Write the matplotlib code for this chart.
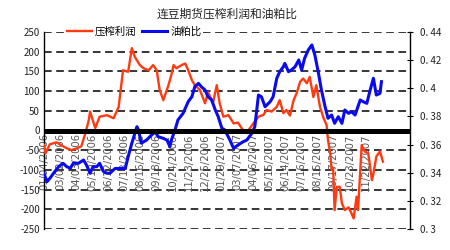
import matplotlib
matplotlib.use("Agg")
import matplotlib.pyplot as plt
from matplotlib.lines import Line2D
from matplotlib.transforms import blended_transform_factory

plt.rcParams['font.family'] = ['Noto Sans CJK SC', 'DejaVu Sans']

# trading-day index and values
profit_day = [0, 2, 8, 17, 24, 31, 38, 45, 51, 56, 61, 63, 70, 76, 86, 95, 102, 108, 115, 120,
              124, 131, 136, 143, 149, 154, 158, 163, 170, 174, 177, 181, 188, 193, 197, 202,
              206, 213, 220, 224, 231, 236, 240, 245, 252, 259, 265, 270, 275, 279, 286, 293,
              300, 304, 311, 318, 322, 327, 331, 336, 341, 345, 350, 354, 359, 363, 368, 372,
              377, 382, 386, 388, 391, 393, 395, 397, 400, 404, 407, 411, 416, 420, 423, 427,
              429, 434, 438, 443, 448, 450, 454, 459, 463]
profit = [-37, -58, -35, -30, -38, -45, -50, -45, -40, -10, 25, 48, 6, 35, 39, 31, 60, 153, 149, 209,
          187, 166, 158, 153, 166, 153, 103, 77, 115, 141, 166, 158, 166, 170, 153, 128,
          115, 103, 69, 97, 71, 115, 69, 35, 39, 18, 20, 6, -6, 0, 18, 35,
          40, 52, 48, 60, 77, 44, 52, 38, 77, 94, 124, 132, 120, 136, 85, 115,
          60, 31, 14, -24, -58, -100, -95, -202, -143, -143, -185, -202, -195, -210, -223, -168,
          -202, -37, -53, -58, -126, -110, -66, -53, -79]

ratio_day = [0, 4, 8, 13, 20, 26, 31, 36, 40, 47, 54, 58, 63, 67, 72, 76, 81, 86, 90, 97,
             104, 111, 115, 120, 127, 129, 133, 140, 147, 152, 156, 163, 168, 172, 174, 179,
             183, 190, 197, 202, 206, 211, 215, 220, 224, 229, 234, 238, 243, 247, 254, 259,
             265, 272, 277, 284, 288, 293, 297, 302, 309, 313, 318, 322, 327, 329, 334, 338,
             343, 348, 352, 356, 361, 366, 370, 375, 379, 384, 388, 393, 397, 402, 407, 411,
             416, 420, 425, 432, 436, 441, 445, 450, 454, 459, 461]
ratio = [0.3396, 0.3336, 0.3360, 0.3396, 0.3443, 0.3467, 0.3443, 0.3432, 0.3467, 0.3467, 0.3490,
         0.3455, 0.3396, 0.3443, 0.3443, 0.3467, 0.3410, 0.3396, 0.3396, 0.3430, 0.3430, 0.3430,
         0.3514, 0.3610, 0.3727, 0.3704, 0.3610, 0.3632, 0.3668, 0.3690, 0.3656, 0.3644, 0.3632,
         0.3585, 0.3632, 0.3704, 0.3775, 0.3822, 0.3905, 0.3940, 0.4011, 0.4035, 0.4011, 0.3988,
         0.3940, 0.3917, 0.3846, 0.3798, 0.3716, 0.3704, 0.3632, 0.3573, 0.3597, 0.3620, 0.3632,
         0.3680, 0.3727, 0.3952, 0.3940, 0.3869, 0.3905, 0.3940, 0.4071, 0.4118, 0.4153, 0.4177,
         0.4118, 0.4130, 0.4153, 0.4201, 0.4130, 0.4213, 0.4272, 0.4308, 0.4237, 0.4106, 0.3988,
         0.3869, 0.3787, 0.3810, 0.3751, 0.3798, 0.3751, 0.3846, 0.3822, 0.3834, 0.3810, 0.3917,
         0.3905, 0.3893, 0.3976, 0.4071, 0.3952, 0.3964, 0.4047]

date_labels = ['01/04/2006', '03/02/2006', '04/03/2006', '05/10/2006', '06/12/2006', '07/13/2006',
               '08/16/2006', '09/18/2006', '10/24/2006', '11/23/2006', '12/25/2006', '01/29/2007',
               '03/07/2007', '04/06/2007', '05/15/2007', '06/14/2007', '07/16/2007', '08/15/2007',
               '09/17/2007', '10/23/2007', '11/22/2007']
date_days = [22 * i for i in range(len(date_labels))]

left_ticks = [-250, -200, -150, -100, -50, 0, 50, 100, 150, 200, 250]
right_ticks = [0.30, 0.32, 0.34, 0.36, 0.38, 0.40, 0.42, 0.44]
right_labels = ['0. 3', '0. 32', '0. 34', '0. 36', '0. 38', '0. 4', '0. 42', '0. 44']

title = '连豆期货压榨利润和油粕比'
name_profit = '压榨利润'
name_ratio = '油粕比'

fig = plt.figure(figsize=(4.5, 2.5), dpi=100)
ax = fig.add_axes([44 / 450, 1 - 229 / 250, 366 / 450, 197 / 250])
ax2 = ax.twinx()

ax.set_xlim(0, 500)
ax.set_ylim(-250, 250)
ax2.set_ylim(0.30, 0.44)

for y in left_ticks:
    if y != 0:
        ax.axhline(y, color='black', lw=1.1, ls=(0, (5, 3)), zorder=1)

lp, = ax.plot(profit_day, profit, color='#FF3A10', lw=1.7, zorder=3)
lr, = ax2.plot(ratio_day, ratio, color='#0A0AF0', lw=2.2, zorder=3)

# thick zero line drawn on top
tr = blended_transform_factory(ax.transAxes, ax.transData)
ax2.add_line(Line2D([0, 1], [0, 0], transform=tr, color='black', lw=3.6, zorder=6))

for s in ['top', 'bottom']:
    ax.spines[s].set_visible(False)
    ax2.spines[s].set_visible(False)
ax.spines['left'].set_linewidth(1.0)
ax2.spines['right'].set_linewidth(1.0)
ax2.spines['left'].set_visible(False)
ax.spines['right'].set_visible(False)

ax.set_yticks(left_ticks)
ax.set_yticklabels([str(v) for v in left_ticks])
ax.tick_params(axis='y', length=0, labelsize=7, pad=3, labelcolor='#222222')
ax2.set_yticks(right_ticks)
ax2.set_yticklabels(right_labels)
ax2.tick_params(axis='y', direction='inout', length=4, labelsize=7, pad=5, labelcolor='#222222')

ax.set_xticks(date_days)
ax.set_xticklabels([])
ax.tick_params(axis='x', length=0)
ax2.tick_params(axis='x', length=0)
for d, lab in zip(date_days, date_labels):
    ax.text(d, -7, lab, rotation=90, ha='center', va='top',
            fontsize=7.2, color='#555555', family='DejaVu Sans', zorder=2)

leg = ax2.legend([lp, lr], [name_profit, name_ratio], ncol=2, loc='upper left',
                 bbox_to_anchor=(65 / 450, 1 - 25 / 250), bbox_transform=fig.transFigure,
                 frameon=True, fancybox=False, edgecolor='white', facecolor='white',
                 framealpha=1, fontsize=7.5, handlelength=2.4, handletextpad=0.3,
                 columnspacing=0.6, borderpad=0.15, borderaxespad=0)
leg.set_zorder(10)
leg.get_frame().set_linewidth(0)

fig.text(0.505, 1 - 14 / 250, title, ha='center', va='center', fontsize=8.5, color='#222222')

fig.savefig('out.png', dpi=100)
